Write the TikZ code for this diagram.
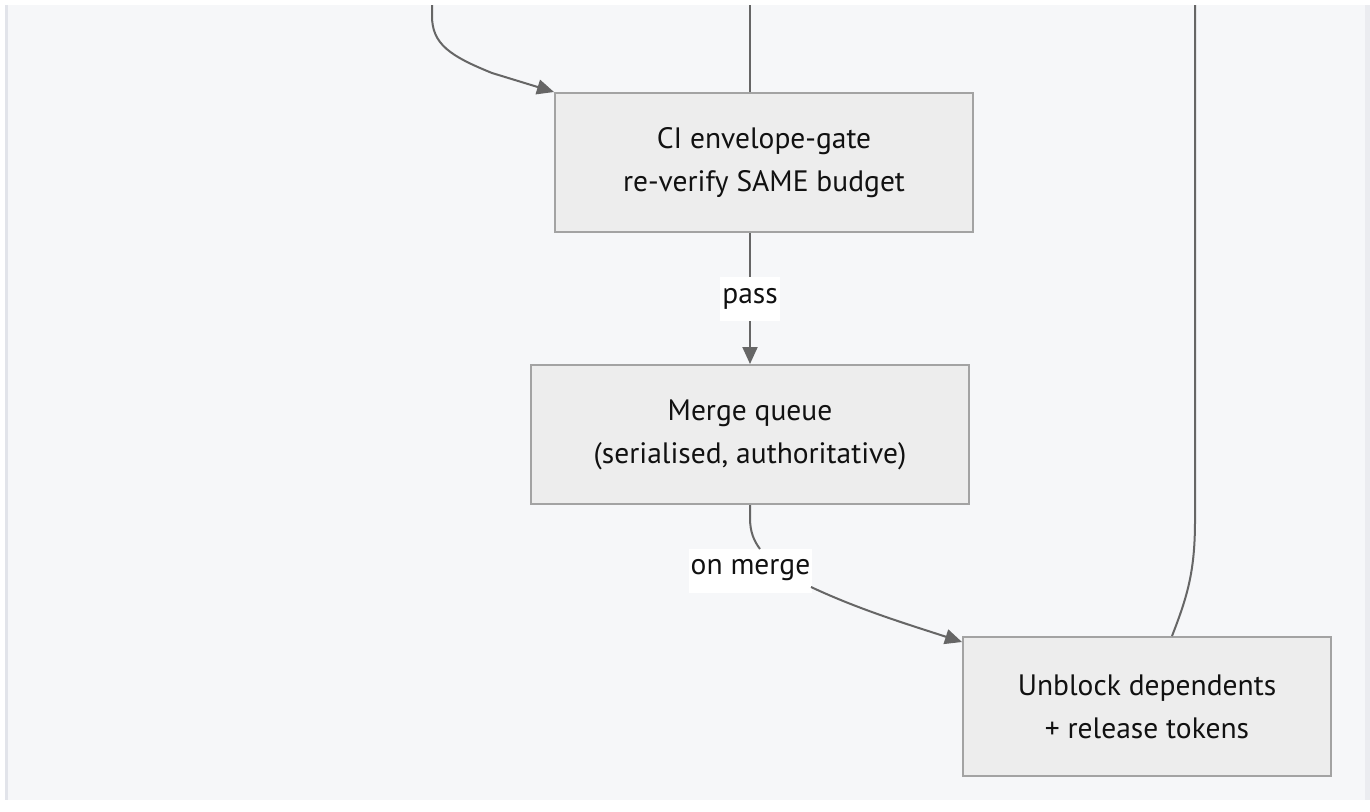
\documentclass[tikz,border=0pt]{standalone}
\usepackage{fontspec}
\setmainfont{PT Sans}
\usetikzlibrary{arrows.meta,calc}
\definecolor{canvas}{HTML}{F6F7F9}
\definecolor{frameline}{HTML}{E2E4EA}
\definecolor{boxfill}{HTML}{EDEDED}
\definecolor{boxline}{HTML}{A3A3A3}
\definecolor{wire}{HTML}{666666}
\definecolor{ink}{HTML}{111111}
\tikzset{
  stepbox/.style={draw=boxline, fill=boxfill, line width=2pt, inner sep=0pt,
    align=center, text=ink, font=\fontsize{29.5}{43}\selectfont},
  wirebase/.style={draw=wire, line width=2pt},
  flow/.style={wirebase, -{Triangle[length=17pt,width=15pt]}},
  edgelabel/.style={fill=white, text=ink, inner xsep=2pt, inner ysep=0pt,
    minimum height=44pt, font=\fontsize{29.5}{34}\selectfont}
}
\begin{document}
\begin{tikzpicture}[x=1pt,y=-1pt]
  \useasboundingbox (0,0) rectangle (1370,811);
  % canvas and its frame
  \fill[white] (0,0) rectangle (1370,811);
  \fill[canvas] (5,5) rectangle (1370,800);
  \fill[frameline] (5,5) rectangle (8,800);
  \fill[frameline!70] (1365,5) rectangle (1370,800);

  % process steps
  \node[stepbox, minimum width=418pt, minimum height=139pt] (ci) at (764,162.5)
    {CI envelope-gate\\re-verify SAME budget};
  \node[stepbox, minimum width=438pt, minimum height=139pt] (mq) at (750,434.5)
    {Merge queue\\(serialised, authoritative)};
  \node[stepbox, minimum width=368pt, minimum height=139pt] (ub) at (1147,706.5)
    {Unblock dependents\\+ release tokens};

  % loose ends entering from above
  \coordinate (inA) at (432,5);
  \coordinate (inB) at (750,5);
  \coordinate (inC) at (1195,5);

  % connectors
  \draw[flow] (inA) -- (432,16) .. controls (432,44) and (450,56) .. (492,73) -- (ci.north west);
  \draw[wirebase] (inB) -- (ci.north -| inB);

  \draw[flow] (ci.south -| inB) -- node[edgelabel] (lpass) {pass} (mq.north -| inB);

  \node[edgelabel] (lmerge) at (750.5,570.5) {on merge};
  \draw[wirebase] (mq.south -| inB) -- (750,518) .. controls (750,532) and (754,541) .. (760,549);
  \draw[flow] (811,587) .. controls (860,610) and (910,625) .. ($(ub.north west)+(0,6)$);

  \draw[wirebase] (inC) -- (1195,520) .. controls (1195,570) and (1188,595) .. ($(ub.north)+(25,0)$);
\end{tikzpicture}
\end{document}
